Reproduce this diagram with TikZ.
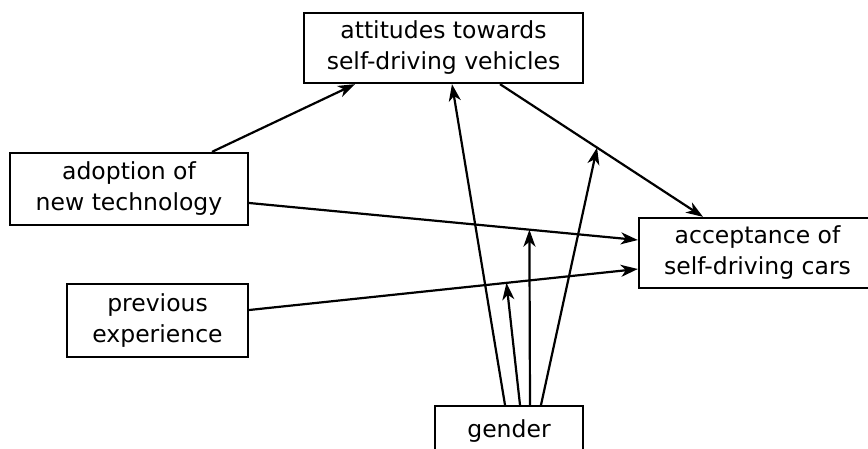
\documentclass[tikz,border=0pt]{standalone}
\usepackage{fontspec}
\setmainfont{DejaVu Sans}
\usetikzlibrary{arrows.meta}
\begin{document}
\begin{tikzpicture}[x=1pt,y=-1pt,
  box/.style={draw, line width=2.3pt, rectangle, align=center, inner sep=0pt,
    font=\fontsize{23.5}{31}\selectfont},
  arr/.style={line width=2.2pt, -{Stealth[length=17pt,width=12pt,inset=5pt]}}]
\useasboundingbox (0,0) rectangle (868,449);
\clip (0,0) rectangle (868,449);
\fill[white] (0,0) rectangle (868,449);
\node[box, minimum width=279pt, minimum height=70pt] (att) at (443.5,48) {attitudes towards\\self-driving vehicles};
\node[box, minimum width=238pt, minimum height=72pt] (adopt) at (129,189) {adoption of\\new technology};
\node[box, minimum width=181pt, minimum height=73pt] (prev) at (157.5,320.5) {previous\\experience};
\node[box, minimum width=237pt, minimum height=70pt] (acc) at (757.5,253) {acceptance of\\self-driving cars};
\node[box, minimum width=148pt, minimum height=50pt, anchor=north] (gender) at (509,405) {gender};

\draw[arr] ([xshift=83pt]adopt.north) -- ([xshift=-88.5pt]att.south);
\draw[arr] ([xshift=56.5pt]att.south) -- ([xshift=-54.5pt]acc.north) coordinate[pos=0.478] (m3);
\draw[arr] ([yshift=-14pt]adopt.east) -- ([yshift=13pt]acc.west) coordinate[pos=0.721] (m1);
\draw[arr] ([yshift=10.5pt]prev.east) -- ([yshift=-16pt]acc.west) coordinate[pos=0.662] (m2);
\draw[arr] ([xshift=-4pt]gender.north) -- ([xshift=8.5pt]att.south);
\draw[arr] ([xshift=11pt]gender.north) -- (m2);
\draw[arr] ([xshift=21pt]gender.north) -- (m1);
\draw[arr] ([xshift=32pt]gender.north) -- (m3);
\end{tikzpicture}
\end{document}
